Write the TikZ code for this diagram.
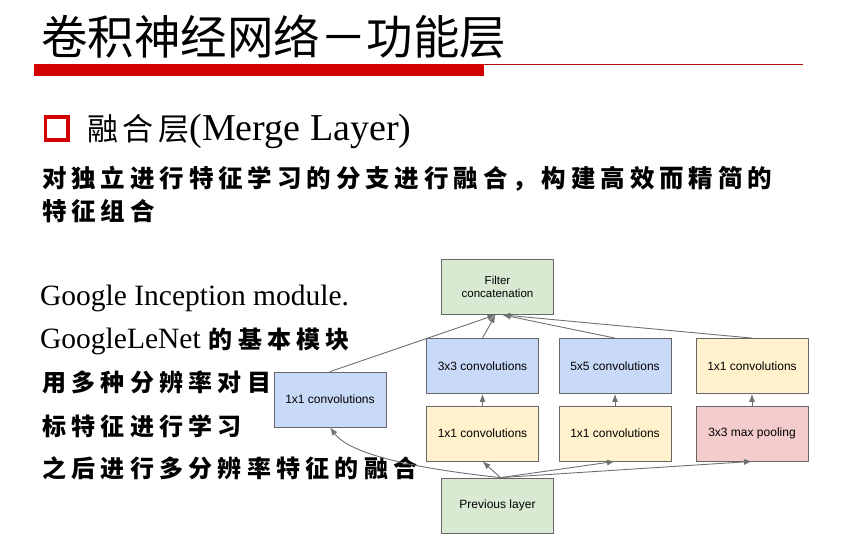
\documentclass[tikz,border=0pt]{standalone}
\usepackage{fontspec}
\setmainfont{Liberation Serif}
\newfontfamily\titlefont{Noto Sans CJK SC}
\newfontfamily\cjkhead{Noto Sans CJK SC}[LetterSpace=15]
\newfontfamily\cjkwide{Noto Sans CJK SC}[LetterSpace=20]
\newfontfamily\cjknarrow{Noto Sans CJK SC}[LetterSpace=22]
\newfontfamily\boxfont{Liberation Sans}
\usepackage{xcolor}
\usetikzlibrary{arrows.meta, positioning, calc}
\definecolor{convblue}{HTML}{C9DAF8}
\definecolor{convyellow}{HTML}{FFF2CC}
\definecolor{poolpink}{HTML}{F4CCCC}
\definecolor{layergreen}{HTML}{D9EAD3}
\definecolor{boxline}{HTML}{666666}
\definecolor{flowgray}{HTML}{707070}
\definecolor{barred}{HTML}{D40000}
\definecolor{linered}{HTML}{B01010}

\begin{document}
\begin{tikzpicture}[
    x=1pt, y=-1pt,
    conv/.style={rectangle, draw=boxline, line width=0.8pt, minimum width=112pt, minimum height=55pt, inner sep=0pt, text centered, font=\boxfont\fontsize{12}{14}\selectfont},
    flow/.style={draw=flowgray, line width=0.9pt, -{Latex[length=8pt, width=6pt]}},
    line/.style={anchor=west, inner sep=0pt}
  ]
    \useasboundingbox (0,0) rectangle (849,551);

    % Title
    \node[line] (title) at (41,37) {\titlefont\fontsize{46.5}{50}\selectfont 卷积神经网络－功能层};
    \fill[barred] (34,64) rectangle (484,76);
    \draw[linered, line width=1pt] (484,64.5) -- (803,64.5);

    % Merge layer
    \draw[barred, line width=3.5pt] (45.5,117) rectangle (68,140);
    \node[line] (merge) at (87,131) {{\cjkhead\fontsize{31}{34}\selectfont 融合层}{\fontsize{38}{42}\selectfont (Merge Layer)}};
    \node[line] (desc1) at (42,179) {\cjkwide\bfseries\fontsize{24.5}{28}\selectfont 对独立进行特征学习的分支进行融合，构建高效而精简的};
    \node[line] (desc2) at (42,211.5) {\cjkwide\bfseries\fontsize{24.5}{28}\selectfont 特征组合};

    % Inception text
    \node[anchor=base west, inner sep=0pt] (gim) at (40,305) {\fontsize{29.5}{33}\selectfont Google Inception module.};
    \node[anchor=base west, inner sep=0pt] (gnet) at (40,348) {\fontsize{29.5}{33}\selectfont GoogleLeNet\hspace{8pt}{\cjknarrow\bfseries\fontsize{24}{28}\selectfont 的基本模块}};
    \node[line] (use1) at (42,382.5) {\cjknarrow\bfseries\fontsize{24}{28}\selectfont 用多种分辨率对目};
    \node[line] (use2) at (42,426.7) {\cjknarrow\bfseries\fontsize{24}{28}\selectfont 标特征进行学习};
    \node[line] (use3) at (42,468.3) {\cjknarrow\bfseries\fontsize{24}{28}\selectfont 之后进行多分辨率特征的融合};

    % Inception module
    \node[conv, fill=layergreen, font=\boxfont\fontsize{11.5}{13}\selectfont, align=center] (filter) at (497.5,287) {Filter\\concatenation};
    \node[conv, fill=convblue] (c1) at (330,399.5) {1x1 convolutions};
    \node[conv, fill=convblue] (c3) at (482.5,366) {3x3 convolutions};
    \node[conv, fill=convblue] (c5) at (615,366) {5x5 convolutions};
    \node[conv, fill=convyellow] (cp) at (752,366) {1x1 convolutions};
    \node[conv, fill=convyellow] (r3) at (482.5,433.5) {1x1 convolutions};
    \node[conv, fill=convyellow] (r5) at (615,433.5) {1x1 convolutions};
    \node[conv, fill=poolpink] (pool) at (752,433.5) {3x3 max pooling};
    \node[conv, fill=layergreen] (prev) at (497.5,505.5) {Previous layer};

    \coordinate (inL) at ($(filter.south)+(-2,0)$);
    \coordinate (inR) at ($(filter.south)+(5,0)$);
    \coordinate (outP) at ($(prev.north)+(3,0)$);

    % Arrows
    \draw[flow] (c1.north) -- (inL);
    \draw[flow] (c3.north) -- (inL);
    \draw[flow] (c5.north) -- (inR);
    \draw[flow] (cp.north) -- (inR);
    \draw[flow] (r3) -- (c3);
    \draw[flow] (r5) -- (c5);
    \draw[flow] (pool) -- (cp);
    \draw[flow] (outP) .. controls (430,470) and (352,457) .. (c1.south);
    \draw[flow] (outP) -- (r3.south);
    \draw[flow] (outP) -- (r5.south);
    \draw[flow] (outP) -- (pool.south);

  \end{tikzpicture}
\end{document}
